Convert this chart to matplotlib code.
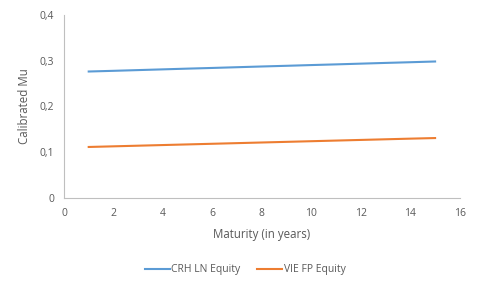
import matplotlib.pyplot as plt
from matplotlib.ticker import FuncFormatter

plt.rcParams['font.family'] = ['Open Sans', 'DejaVu Sans']

maturity = [1, 2, 3, 4, 5, 6, 7, 8, 9, 10, 11, 12, 13, 14, 15]
crh = [0.2765, 0.278, 0.2796, 0.2812, 0.2828, 0.2843, 0.2859, 0.2875, 0.2890,
       0.2906, 0.2921, 0.2937, 0.2953, 0.2968, 0.2984]
vie = [0.1115, 0.1129, 0.1143, 0.1157, 0.1171, 0.1185, 0.1199, 0.1213, 0.1227,
       0.1241, 0.1255, 0.1269, 0.1283, 0.1297, 0.1310]

fig = plt.figure(figsize=(4.81, 2.89), dpi=100)
ax = fig.add_axes([0.133, 0.315, 0.823, 0.633])

ax.plot(maturity, crh, color='#5b9bd5', lw=1.5, label='CRH LN Equity')
ax.plot(maturity, vie, color='#ed7d31', lw=1.5, label='VIE FP Equity')

ax.set_xlim(0, 16)
ax.set_ylim(0, 0.4)
ax.set_xticks(range(0, 17, 2))
ax.set_yticks([0, 0.1, 0.2, 0.3, 0.4])
ax.yaxis.set_major_formatter(FuncFormatter(lambda v, p: '0' if v == 0 else f'{v:.1f}'.replace('.', ',')))

for s in ['top', 'right']:
    ax.spines[s].set_visible(False)
for s in ['left', 'bottom']:
    ax.spines[s].set_color('#bfbfbf')
    ax.spines[s].set_linewidth(0.8)
ax.tick_params(length=0, labelsize=7.5, labelcolor='#595959', pad=7)

ax.set_xlabel('Maturity (in years)', fontsize=8.3, color='#595959', labelpad=7)
ax.set_ylabel('Calibrated Mu', fontsize=8.3, color='#595959', labelpad=6)

fig.legend(loc='center', bbox_to_anchor=(0.51, 0.066), ncol=2, frameon=False,
           fontsize=7.5, labelcolor='#595959', handlelength=2.4, handletextpad=0.15,
           columnspacing=1.6)

fig.savefig('out.png', dpi=100)
